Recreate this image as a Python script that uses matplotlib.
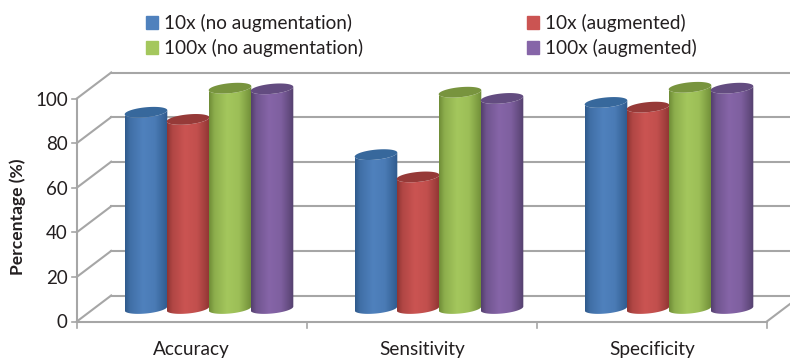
import numpy as np
import matplotlib
matplotlib.use("Agg")
import matplotlib.pyplot as plt
from matplotlib.path import Path
from matplotlib.patches import PathPatch, Patch
from matplotlib.colors import to_rgb

plt.rcParams['font.family'] = ['Lato', 'DejaVu Sans']

categories = ["Accuracy", "Sensitivity", "Specificity"]
series = ["10x (no augmentation)", "10x (augmented)", "100x (no augmentation)", "100x (augmented)"]
acc10_plain = [88, 69, 92.4]
acc10_aug = [84.8, 59, 90.3]
acc100_plain = [98.8, 97, 99.2]
acc100_aug = [98.5, 94.2, 98.8]
values = [acc10_plain, acc10_aug, acc100_plain, acc100_aug]
y_ticks = [0, 20, 40, 60, 80, 100]

body = ["#4F81BD", "#CB5452", "#A4C75D", "#8665A8"]
edge = ["#2F5A8C", "#8F3533", "#6F8D37", "#54406E"]
cap = ["#37689C", "#963A38", "#78943E", "#634C80"]
grey = "#A6A6A6"
text_c = "#231F20"

W, H = 790, 358
X_SCALE = 230.0   # pixels per category
Y_SCALE = 2.23    # pixels per percent
X0_PX, Y0_PX = 209.0, 308.5   # mid-depth origin

fig = plt.figure(figsize=(W / 100, H / 100), dpi=100)
ax = fig.add_axes([0, 0, 1, 1])
xlim = (-X0_PX / X_SCALE, (W - X0_PX) / X_SCALE)
ylim = ((Y0_PX - H) / Y_SCALE, Y0_PX / Y_SCALE)
ax.axis("off")

depth_x = 17.2 / X_SCALE
depth_y = 13.0 / Y_SCALE
left_cat = -0.5
right_cat = len(categories) - 0.5
lw = 1.5

# Walls and gridlines
for v in y_ticks:
    ax.plot([left_cat - depth_x, left_cat + depth_x], [v - depth_y, v + depth_y], color=grey, lw=lw, zorder=1)
    ax.plot([left_cat + depth_x, xlim[1]], [v + depth_y, v + depth_y], color=grey, lw=lw, zorder=1)
    ax.plot([left_cat - depth_x - 5 / X_SCALE, left_cat - depth_x], [v - depth_y, v - depth_y], color=grey, lw=1.2, zorder=1)
    ax.text(left_cat - depth_x - 9 / X_SCALE, v - depth_y - 1.5 / Y_SCALE, str(v), ha="right", va="center",
            fontsize=13.5, color=text_c)
ax.plot([left_cat - depth_x] * 2, [-depth_y, 100 - depth_y], color=grey, lw=lw, zorder=1)
ax.plot([left_cat - depth_x, right_cat - depth_x], [-depth_y, -depth_y], color=grey, lw=lw, zorder=1)
ax.plot([right_cat - depth_x, right_cat + depth_x], [-depth_y, depth_y], color=grey, lw=lw, zorder=1)
for i in range(len(categories) + 1):
    ax.plot([i - 0.5 - depth_x] * 2, [-depth_y, -depth_y - 6 / Y_SCALE], color=grey, lw=1.2, zorder=1)
for i, c in enumerate(categories):
    ax.text(i - depth_x, -depth_y - 28.5 / Y_SCALE, c, ha="center", va="center", fontsize=13.7, color=text_c)

ax.text(-X0_PX / X_SCALE + 18 / X_SCALE, (Y0_PX - 217) / Y_SCALE, "Percentage (%)", rotation=90,
        ha="center", va="center", fontsize=12.6, fontweight="bold", color=text_c)

# Cylinders
pitch = 42.0 / X_SCALE
a = 21.3 / X_SCALE
b = 5.0 / Y_SCALE
k = 2.0 / Y_SCALE


def rim(cx, cy, t):
    return cx + a * np.cos(t), cy + b * np.sin(t) + k * np.cos(t)


for s, vals in enumerate(values):
    c_e, c_b = np.array(to_rgb(edge[s])), np.array(to_rgb(body[s]))
    pos = np.linspace(0, 1, 64)
    w = np.interp(pos, [0, 0.12, 0.42, 0.7, 0.9, 1], [0, 0.55, 1, 0.85, 0.3, 0])
    grad = (c_e[None, :] * (1 - w[:, None]) + c_b[None, :] * w[:, None])[None, :, :]
    for i, v in enumerate(vals):
        cx = i + (s - 1.5) * pitch
        t = np.linspace(np.pi, 2 * np.pi, 40)
        bx, by = rim(cx, 0, t)
        tx, ty = rim(cx, v, t[::-1])
        verts = np.column_stack([np.r_[bx, tx], np.r_[by, ty]])
        patch = PathPatch(Path(np.vstack([verts, verts[0]])), fc="none", ec="none", zorder=2 + s)
        ax.add_patch(patch)
        im = ax.imshow(grad, extent=[cx - a, cx + a, -20, 120], aspect="auto",
                       interpolation="bilinear", zorder=2 + s)
        im.set_clip_path(patch)
        t2 = np.linspace(0, 2 * np.pi, 80)
        ex, ey = rim(cx, v, t2)
        ax.fill(ex, ey, color=cap[s], lw=0, zorder=2 + s)

ax.set_xlim(xlim)
ax.set_ylim(ylim)

handles = [Patch(color=body[0]), Patch(color=body[2]), Patch(color=body[1]), Patch(color=body[3])]
labels = [series[0], series[2], series[1], series[3]]
leg = ax.legend(handles, labels, ncol=2, frameon=False, fontsize=13.7,
                loc="upper left", bbox_to_anchor=(146 / W, 1 - 14 / H), bbox_transform=fig.transFigure,
                handlelength=0.63, handleheight=0.63, handletextpad=0.32,
                columnspacing=8.62, labelspacing=0.36, borderpad=0, borderaxespad=0,
                labelcolor=text_c)

fig.savefig("out.png", dpi=100)
